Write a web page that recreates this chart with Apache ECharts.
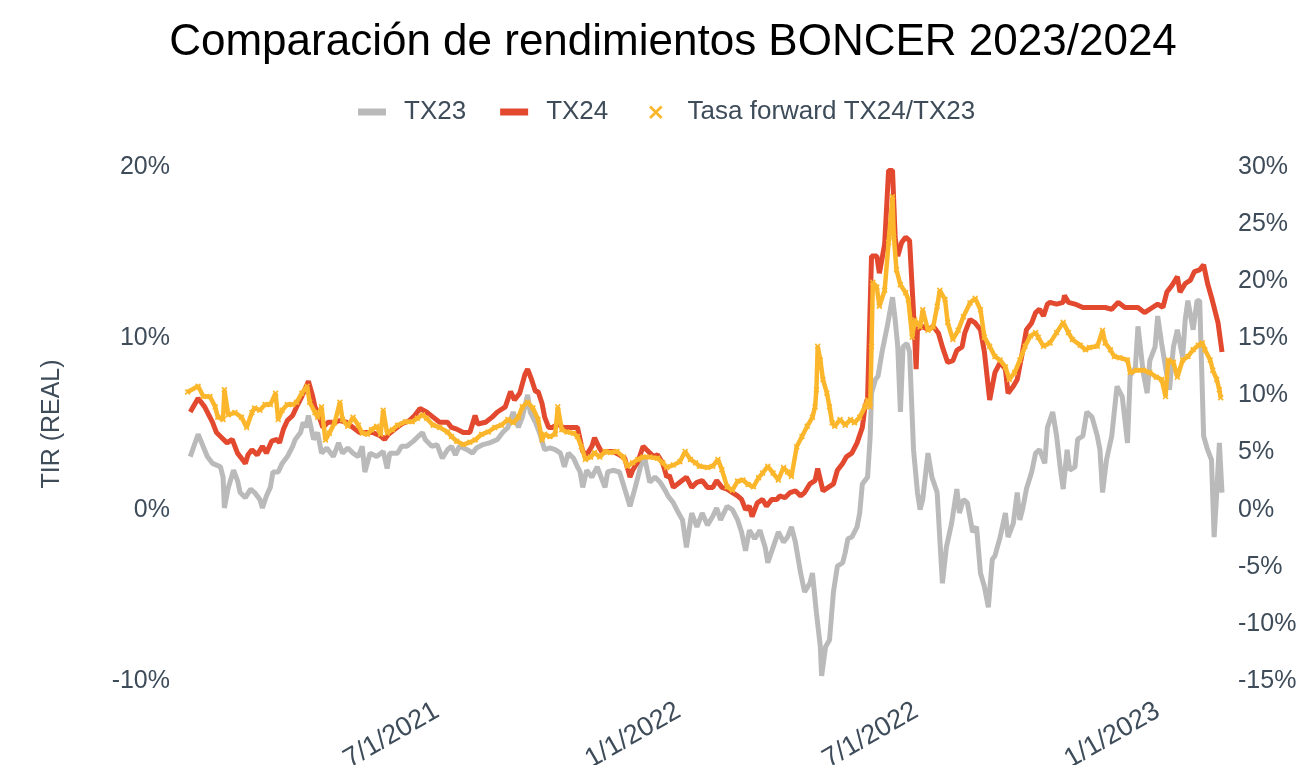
<!DOCTYPE html>
<html>
<head>
<meta charset="utf-8">
<title>BONCER 2023/2024</title>
<script src="https://cdn.jsdelivr.net/npm/echarts@6/dist/echarts.min.js"></script>
<style>
  html, body { margin: 0; background: #fff; }
  #chart { width: 1307px; height: 765px; }
</style>
</head>
<body>
<div id="chart"></div>
<script>
// dates are stored as days since startDate
const startDate = '2020-12-21'
const spanDays = 790
const xTickDates = ['2021-07-01', '2022-01-01', '2022-07-01', '2023-01-01']
const leftTicks = { min: -10, max: 20, interval: 10 }
const rightTicks = { min: -15, max: 30, interval: 5 }

// TX23 real yield (%), left axis
const tx23 = [
  [4, 3.1], [10, 4.4], [17, 3.1], [21, 2.7], [27, 2.5], [29, 1.9], [30, 0.1], [33, 1.3], [37, 2.3], [40, 1.7],
  [42, 1.0], [46, 0.7], [50, 1.2], [53, 1.0], [57, 0.6], [59, 0.1], [62, 0.8], [65, 1.3], [67, 2.2], [71, 2.2],
  [74, 2.7], [78, 3.1], [82, 3.7], [84, 4.1], [88, 4.5], [90, 5.1], [92, 4.8], [94, 5.5], [98, 4.1], [101, 4.5],
  [104, 3.3], [108, 3.6], [113, 3.1], [117, 3.9], [120, 3.3], [124, 3.6], [128, 3.3], [132, 3.1], [135, 3.7], [137, 2.2],
  [141, 3.3], [146, 3.1], [151, 3.4], [154, 2.4], [156, 3.3], [162, 3.3], [165, 3.7], [169, 3.7], [174, 4.0], [178, 4.3],
  [181, 4.5], [183, 4.1], [188, 3.7], [192, 3.8], [196, 3.0], [200, 3.5], [203, 3.7], [206, 3.2], [209, 3.7], [215, 3.5],
  [219, 3.3], [222, 3.6], [227, 3.8], [232, 3.9], [238, 4.1], [242, 4.5], [246, 4.8], [250, 5.7], [254, 4.8], [257, 5.4],
  [261, 6.7], [263, 5.7], [267, 5.1], [270, 4.5], [274, 3.5], [278, 3.6], [282, 3.5], [286, 3.3], [289, 2.5], [292, 3.3],
  [296, 3.0], [299, 2.5], [301, 2.2], [303, 1.3], [306, 2.3], [310, 1.9], [314, 2.5], [318, 1.7], [320, 1.3], [322, 2.2],
  [326, 2.3], [331, 2.2], [335, 1.2], [339, 0.2], [343, 1.3], [347, 2.5], [350, 3.1], [354, 1.6], [358, 1.9], [362, 1.6],
  [366, 1.1], [368, 0.8], [372, 0.4], [376, -0.2], [379, -0.6], [382, -2.2], [386, -0.2], [390, -1.0], [394, -0.2], [398, -0.9],
  [402, -0.4], [405, 0.1], [408, -0.6], [413, 0.2], [417, 0.0], [421, -0.6], [424, -1.3], [427, -2.4], [430, -1.2], [434, -1.7],
  [438, -1.2], [442, -2.2], [444, -3.1], [448, -2.2], [452, -1.3], [456, -1.9], [459, -1.6], [462, -1.0], [465, -1.9], [469, -3.7],
  [472, -4.8], [476, -4.3], [478, -3.7], [481, -6.0], [484, -8.0], [485, -9.7], [488, -8.0], [491, -7.6], [494, -4.8], [497, -3.3],
  [501, -3.1], [503, -2.5], [505, -1.7], [508, -1.6], [512, -1.0], [514, -0.2], [516, 1.5], [520, 1.9], [522, 4.3], [523, 6.8],
  [526, 7.6], [528, 7.8], [531, 9.2], [535, 10.7], [539, 12.4], [541, 11.1], [543, 9.5], [545, 5.7], [547, 9.5], [550, 9.7],
  [552, 9.2], [555, 3.5], [558, 1.0], [560, 0.0], [562, 0.6], [566, 3.3], [569, 1.9], [573, 1.0], [577, -4.3], [580, -2.2],
  [584, -0.8], [588, 1.2], [590, -0.2], [593, 0.6], [596, 0.4], [600, -1.3], [603, -1.0], [606, -3.7], [609, -4.5], [612, -5.7],
  [615, -2.9], [617, -2.7], [621, -1.6], [625, -0.2], [627, -1.6], [631, -0.8], [634, 1.0], [636, -0.6], [638, 0.0], [641, 1.2],
  [645, 2.2], [648, 3.3], [651, 3.5], [655, 2.7], [657, 4.8], [661, 5.7], [664, 4.3], [667, 2.3], [669, 1.2], [672, 3.5],
  [674, 2.3], [678, 2.5], [680, 4.1], [684, 4.3], [687, 5.7], [691, 5.4], [695, 4.3], [697, 3.5], [699, 1.0], [702, 2.9],
  [706, 4.3], [710, 7.2], [714, 6.6], [718, 3.9], [720, 7.8], [724, 8.3], [726, 10.7], [730, 8.0], [733, 6.8], [735, 8.7],
  [739, 9.5], [741, 11.3], [744, 9.7], [747, 8.3], [750, 7.0], [753, 9.5], [756, 10.5], [760, 8.9], [762, 11.1], [764, 12.2],
  [768, 10.5], [771, 12.2], [773, 12.2], [776, 4.3], [779, 3.5], [782, 2.9], [784, -1.6], [786, 1.0], [788, 3.9], [790, 1.0]
]

// TX24 real yield (%), left axis
const tx24 = [
  [4, 5.7], [10, 6.5], [15, 6.0], [21, 5.1], [24, 4.5], [28, 4.2], [32, 3.9], [36, 4.1], [40, 3.3], [43, 3.0],
  [46, 2.7], [48, 3.2], [51, 3.5], [55, 3.2], [59, 3.7], [62, 3.3], [66, 4.0], [70, 4.1], [72, 3.9], [75, 4.7],
  [78, 5.2], [82, 5.5], [85, 6.0], [89, 6.6], [93, 7.3], [94, 7.5], [97, 6.7], [99, 6.0], [101, 5.7], [105, 4.8],
  [109, 5.1], [113, 5.1], [118, 5.2], [123, 5.1], [128, 4.8], [133, 4.5], [139, 4.5], [143, 4.5], [149, 4.3], [152, 4.1],
  [155, 4.4], [160, 4.7], [165, 5.0], [171, 5.2], [175, 5.5], [179, 5.9], [184, 5.7], [189, 5.4], [194, 5.1], [200, 5.1],
  [203, 4.8], [207, 4.7], [212, 4.5], [217, 4.5], [221, 5.5], [223, 5.0], [229, 5.1], [234, 5.4], [238, 5.7], [244, 6.0],
  [248, 6.9], [251, 6.4], [255, 6.8], [259, 7.9], [261, 8.2], [264, 7.6], [267, 6.9], [269, 6.9], [272, 6.2], [274, 5.4],
  [277, 4.8], [280, 4.8], [284, 5.0], [288, 4.8], [292, 4.8], [296, 4.8], [299, 4.8], [301, 4.1], [303, 3.4], [306, 3.2],
  [310, 3.7], [312, 4.2], [315, 3.7], [318, 3.3], [321, 3.4], [326, 3.4], [331, 3.2], [335, 3.0], [339, 1.9], [341, 2.3],
  [345, 2.8], [349, 3.7], [353, 3.4], [357, 3.1], [360, 3.2], [364, 2.7], [367, 1.9], [369, 2.0], [372, 1.3], [377, 1.6],
  [382, 1.9], [386, 1.3], [390, 1.6], [394, 1.7], [398, 1.3], [402, 1.3], [405, 1.7], [409, 1.3], [413, 1.2], [417, 1.0],
  [421, 0.8], [424, 0.6], [427, 0.0], [430, 0.2], [432, -0.4], [436, 0.4], [440, 0.6], [443, 0.2], [447, 0.6], [451, 0.6],
  [453, 0.8], [457, 0.7], [461, 1.0], [465, 1.1], [469, 0.8], [472, 1.0], [476, 1.5], [480, 1.7], [482, 2.4], [486, 1.1],
  [490, 1.3], [494, 1.5], [497, 2.3], [501, 2.7], [504, 3.1], [508, 3.3], [512, 3.9], [516, 4.8], [518, 6.0], [520, 6.5],
  [523, 14.8], [527, 14.8], [529, 13.8], [533, 15.5], [536, 19.8], [539, 19.8], [541, 15.9], [543, 14.8], [546, 15.6], [549, 15.9],
  [552, 15.7], [555, 11.5], [557, 8.2], [558, 10.5], [562, 10.7], [566, 10.5], [570, 10.7], [574, 10.3], [577, 9.5], [581, 8.6],
  [585, 8.7], [588, 9.3], [592, 9.5], [594, 10.3], [598, 11.1], [602, 10.9], [606, 10.5], [609, 9.2], [613, 6.4], [617, 8.0],
  [621, 8.6], [625, 8.2], [627, 6.8], [631, 7.2], [634, 7.6], [638, 9.2], [641, 10.5], [645, 10.9], [648, 11.5], [651, 11.7],
  [654, 11.3], [657, 12.0], [659, 12.1], [664, 12.0], [669, 12.1], [670, 12.5], [673, 12.1], [678, 12.0], [684, 11.8], [691, 11.8],
  [696, 11.8], [701, 11.8], [706, 11.7], [711, 12.1], [716, 11.8], [721, 11.8], [726, 11.8], [731, 11.5], [737, 11.8], [741, 12.0],
  [745, 11.8], [748, 12.7], [752, 13.1], [756, 13.6], [758, 12.7], [762, 13.2], [766, 13.4], [769, 13.9], [773, 14.0], [776, 14.3],
  [779, 13.2], [782, 12.4], [785, 11.5], [787, 10.9], [790, 9.2]
]

// forward rate TX24/TX23 (%), right axis
const forward = [
  [2, 10.3], [10, 10.8], [14, 9.9], [19, 9.9], [23, 9.0], [25, 8.1], [29, 7.9], [30, 10.5], [33, 8.3], [38, 8.5],
  [43, 8.1], [47, 7.2], [51, 8.5], [53, 8.9], [57, 8.7], [61, 9.2], [65, 9.2], [69, 10.2], [71, 7.9], [74, 8.7],
  [78, 9.2], [82, 9.2], [85, 9.4], [89, 10.2], [93, 10.8], [95, 9.4], [99, 8.5], [101, 8.1], [104, 9.0], [107, 6.1],
  [110, 6.7], [114, 7.6], [118, 9.4], [120, 7.9], [124, 7.3], [128, 8.1], [132, 7.4], [135, 6.7], [139, 6.6], [142, 7.0],
  [146, 7.3], [149, 6.6], [151, 8.7], [154, 6.7], [158, 7.0], [162, 7.4], [168, 7.7], [173, 7.7], [177, 8.0], [181, 8.3],
  [184, 8.0], [189, 7.4], [194, 7.2], [200, 6.8], [203, 6.4], [207, 6.0], [212, 5.7], [217, 5.9], [221, 6.1], [226, 6.6],
  [231, 6.8], [236, 7.2], [241, 7.4], [246, 7.9], [250, 7.6], [254, 8.1], [257, 9.0], [261, 9.4], [265, 8.9], [269, 7.9],
  [272, 6.1], [274, 6.6], [278, 6.4], [282, 6.6], [284, 9.0], [287, 7.0], [291, 6.8], [296, 6.7], [299, 6.4], [302, 5.5],
  [305, 4.4], [309, 4.6], [312, 5.0], [316, 4.6], [320, 5.1], [324, 5.0], [329, 5.1], [334, 4.6], [337, 3.8], [341, 4.1],
  [345, 4.4], [349, 4.6], [354, 4.6], [360, 4.5], [364, 4.1], [367, 3.7], [372, 3.9], [377, 4.2], [381, 5.1], [385, 4.4],
  [389, 4.1], [392, 3.8], [398, 3.7], [402, 3.8], [406, 4.4], [409, 3.5], [413, 2.0], [417, 1.7], [421, 2.5], [425, 2.6],
  [429, 2.2], [433, 2.0], [437, 2.8], [440, 3.2], [444, 3.8], [448, 3.2], [452, 2.6], [456, 3.7], [459, 3.3], [462, 2.9],
  [466, 5.5], [470, 6.4], [474, 7.3], [478, 8.1], [480, 9.0], [481, 10.5], [482, 14.3], [484, 13.1], [486, 11.4], [489, 10.2],
  [491, 9.0], [493, 7.6], [495, 7.3], [499, 7.9], [503, 7.4], [507, 7.9], [510, 7.6], [514, 8.1], [518, 9.0], [520, 9.6],
  [522, 9.0], [523, 14.3], [524, 19.9], [527, 19.5], [529, 17.8], [533, 19.2], [536, 23.4], [539, 27.4], [540, 23.9], [542, 21.0],
  [545, 19.7], [549, 19.0], [551, 18.4], [554, 15.1], [556, 16.6], [560, 16.0], [562, 17.5], [566, 15.7], [570, 16.0], [573, 17.8],
  [575, 19.2], [579, 18.4], [581, 16.4], [585, 14.9], [589, 15.7], [593, 16.9], [598, 18.1], [602, 18.5], [606, 17.5], [609, 15.1],
  [613, 14.3], [617, 13.4], [621, 13.1], [625, 12.5], [628, 11.4], [632, 12.0], [636, 13.1], [640, 14.3], [644, 15.2], [648, 15.5],
  [650, 15.1], [654, 14.3], [659, 14.6], [664, 15.5], [669, 16.4], [673, 15.5], [676, 14.9], [682, 14.4], [686, 14.0], [689, 14.2],
  [695, 14.3], [699, 15.7], [701, 14.6], [705, 14.0], [708, 13.4], [712, 13.3], [718, 13.1], [720, 12.0], [725, 12.2], [730, 12.2],
  [735, 12.0], [740, 11.6], [744, 11.4], [747, 9.9], [749, 13.1], [753, 12.9], [756, 11.6], [760, 13.1], [764, 13.4], [768, 14.0],
  [772, 14.4], [775, 14.6], [777, 14.0], [781, 13.1], [783, 12.2], [786, 11.4], [788, 10.5], [789, 9.8]
]

const DAY = 86400000
const textColor = '#3e4c5a'
const fontFamily = '"Liberation Sans", Arial, sans-serif'
const startTs = Date.parse(startDate + 'T00:00:00Z')
const toPoints = arr => arr.map(([d, v]) => [startTs + d * DAY, v])

// filled "x" marker; legend icons carry padding so the text sits further right
const xSymbol = 'path://M0,2L2,0L5,3L8,0L10,2L7,5L10,8L8,10L5,7L2,10L0,8L3,5Z'
const barIcon = 'path://M0,0L0,0ZM41,14L41,14ZM0,3.5L28,3.5L28,10.5L0,10.5Z'
const xIcon = 'path://M0,0L0,0ZM41,14L41,14ZM7,2.5L9,0.5L14,5.5L19,0.5L21,2.5L16,7.5L21,12.5L19,14.5L14,9.5L9,14.5L7,12.5L12,7.5Z'

function fmtDate(v) {
  const d = new Date(v)
  return (d.getUTCMonth() + 1) + '/' + d.getUTCDate() + '/' + d.getUTCFullYear()
}

const chart = echarts.init(document.getElementById('chart'))
chart.setOption({
  animation: false,
  backgroundColor: '#fff',
  textStyle: { fontFamily },
  title: {
    text: 'Comparación de rendimientos BONCER 2023/2024',
    left: 668,
    top: 16,
    textAlign: 'center',
    textStyle: { fontSize: 44, fontWeight: 'normal', color: '#000', fontFamily }
  },
  legend: {
    left: 353,
    top: 94,
    itemWidth: 41,
    itemHeight: 14,
    itemGap: 34,
    textStyle: { fontSize: 26, color: textColor, fontFamily },
    data: [
      { name: 'TX23', icon: barIcon },
      { name: 'TX24', icon: barIcon },
      { name: 'Tasa forward TX24/TX23', icon: xIcon }
    ]
  },
  grid: { left: 185, right: 85, top: 167, bottom: 84, outerBoundsMode: 'none' },
  xAxis: {
    // timestamps on a plain value axis, labels only at the chosen dates
    type: 'value',
    min: startTs,
    max: startTs + spanDays * DAY,
    axisLine: { show: false },
    axisTick: { show: false },
    splitLine: { show: false },
    axisLabel: {
      customValues: xTickDates.map(s => Date.parse(s + 'T00:00:00Z')),
      formatter: fmtDate,
      rotate: 30,
      margin: 28,
      fontSize: 27,
      color: textColor,
      hideOverlap: false
    }
  },
  yAxis: [
    {
      type: 'value',
      min: leftTicks.min,
      max: leftTicks.max,
      interval: leftTicks.interval,
      name: 'TIR (REAL)',
      nameLocation: 'middle',
      nameGap: 120,
      nameTextStyle: { fontSize: 25, color: textColor },
      axisLine: { show: false },
      axisTick: { show: false },
      splitLine: { show: false },
      axisLabel: { formatter: '{value}%', fontSize: 25, margin: 15, color: textColor }
    },
    {
      type: 'value',
      position: 'right',
      min: rightTicks.min,
      max: rightTicks.max,
      interval: rightTicks.interval,
      axisLine: { show: false },
      axisTick: { show: false },
      splitLine: { show: false },
      axisLabel: { formatter: '{value}%', fontSize: 25, margin: 16, color: textColor }
    }
  ],
  series: [
    {
      name: 'TX23',
      type: 'line',
      yAxisIndex: 0,
      data: toPoints(tx23),
      showSymbol: false,
      color: '#bababa',
      lineStyle: { width: 5, color: '#bababa' },
      z: 1
    },
    {
      name: 'TX24',
      type: 'line',
      yAxisIndex: 0,
      data: toPoints(tx24),
      showSymbol: false,
      color: '#e2492f',
      lineStyle: { width: 5, color: '#e2492f' },
      z: 2
    },
    {
      name: 'Tasa forward TX24/TX23',
      type: 'line',
      yAxisIndex: 1,
      data: toPoints(forward),
      symbol: xSymbol,
      symbolSize: 6,
      showAllSymbol: true,
      color: '#fbb62b',
      itemStyle: { color: '#fbb62b' },
      lineStyle: { width: 4.5, color: '#fbb62b' },
      z: 3
    }
  ]
})
</script>
</body>
</html>
